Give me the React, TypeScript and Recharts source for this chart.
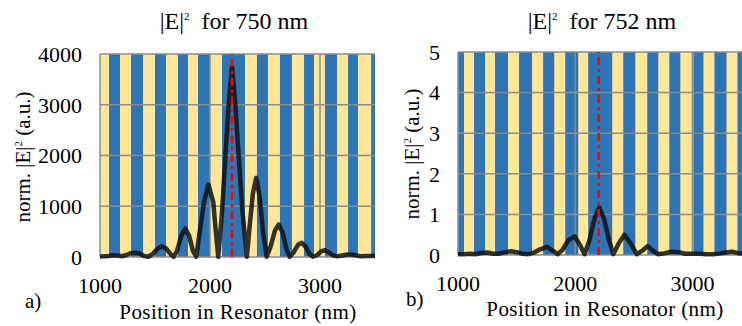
import React from "react";
import { LineChart, Line, XAxis, YAxis, CartesianGrid, ReferenceArea, ReferenceLine } from "recharts";

const SERIF = "Liberation Serif";
const YELLOW = "#FFE699";
const BLUE = "#2E75B6";
const GRID = "#8c8c8c";

const xTicks = [1000, 2000, 3000];
const cavityCenter = 2200;

// 750 nm
const yTicks750 = [0, 1000, 2000, 3000, 4000];
const positions750 = [
  1000, 1040, 1080, 1120, 1160, 1200, 1240, 1280, 1320, 1360, 1400, 1440, 1480, 1520, 1560, 1600,
  1640, 1670, 1700, 1740, 1775, 1810, 1845, 1875, 1910, 1945, 1985, 2030, 2050, 2075, 2110, 2140,
  2170, 2200, 2230, 2260, 2295, 2335, 2360, 2390, 2420, 2450, 2485, 2515, 2550, 2590, 2625, 2660,
  2695, 2725, 2760, 2800, 2835, 2870, 2905, 2935, 2975, 3010, 3045, 3080, 3120, 3155, 3200, 3250,
  3290, 3330, 3370, 3420, 3460, 3500,
];
const field750 = [
  10, 15, 20, 35, 30, 15, 40, 75, 85, 70, 20, 5, 60, 160, 210, 170,
  60, 5, 120, 420, 560, 420, 120, 5, 550, 1080, 1430, 1080, 570, 5, 900, 2000,
  3000, 3750, 3000, 2000, 900, 5, 600, 1250, 1560, 1200, 450, 5, 200, 520, 640, 480,
  150, 5, 90, 240, 280, 200, 60, 5, 40, 110, 135, 90, 30, 15, 30, 50,
  50, 30, 15, 20, 20, 20,
];
// blue layers [start, end] in nm
const stripes750 = [
  [1082, 1182], [1282, 1391], [1500, 1600], [1709, 1800], [1891, 2000], [2109, 2318],
  [2427, 2527], [2636, 2745], [2855, 2945], [3045, 3155], [3255, 3345], [3465, 3500],
];

// 752 nm
const yTicks752 = [0, 1, 2, 3, 4, 5];
const positions752 = [
  1000, 1050, 1100, 1150, 1200, 1250, 1300, 1350, 1400, 1450, 1500, 1550, 1600, 1650, 1700, 1760,
  1810, 1850, 1890, 1940, 1995, 2040, 2080, 2120, 2165, 2205, 2245, 2290, 2325, 2370, 2420, 2470,
  2525, 2570, 2620, 2665, 2705, 2760, 2820, 2880, 2940, 3000, 3060, 3120, 3180, 3240, 3300, 3340,
  3400, 3450, 3500,
];
const field752 = [
  0.02, 0.02, 0.03, 0.02, 0.05, 0.06, 0.03, 0.03, 0.07, 0.09, 0.07, 0.03, 0.02, 0.06, 0.14, 0.2,
  0.1, 0.02, 0.12, 0.36, 0.46, 0.25, 0.02, 0.35, 0.9, 1.17, 0.9, 0.35, 0.02, 0.28, 0.5, 0.3,
  0.02, 0.1, 0.22, 0.1, 0.02, 0.04, 0.08, 0.07, 0.03, 0.03, 0.03, 0.02, 0.02, 0.04, 0.07, 0.08,
  0.04, 0.03, 0.03,
];
const stripes752 = [
  [1000, 1051], [1137, 1231], [1316, 1427], [1521, 1632], [1726, 1821], [1915, 2026], [2111, 2316],
  [2410, 2513], [2615, 2709], [2803, 2897], [3009, 3094], [3188, 3291], [3385, 3480],
];

type PanelProps = {
  positions: number[];
  field: number[];
  stripes: number[][];
  yTicks: number[];
  left: number;
  width: number;
  axisWidth: number;
  top: number;
  bottom: number;
  right: number;
};

function Panel({ positions, field, stripes, yTicks, left, width, axisWidth, top, bottom, right }: PanelProps) {
  const data = positions.map((x, i) => ({ x, y: field[i] }));
  const yMax = yTicks[yTicks.length - 1];
  return (
    <div style={{ position: "absolute", left, top: 0 }}>
      <LineChart width={width} height={326} data={data} margin={{ top, right, bottom: 0, left: 0 }}>
        <CartesianGrid horizontal={false} vertical={false} fill={YELLOW} fillOpacity={1} />
        {stripes.map(([a, b], i) => (
          <ReferenceArea key={i} x1={a} x2={b} y1={0} y2={yMax} fill={BLUE} fillOpacity={1} stroke="none" ifOverflow="hidden" />
        ))}
        {yTicks.map((t) => (
          <ReferenceLine key={"h" + t} y={t} stroke={GRID} strokeWidth={1.5} />
        ))}
        {xTicks.map((t) => (
          <ReferenceLine key={"v" + t} x={t} stroke={GRID} strokeWidth={1.5} />
        ))}
        <XAxis
          dataKey="x"
          type="number"
          domain={[1000, 3500]}
          ticks={xTicks}
          allowDataOverflow
          axisLine={false}
          tickLine={false}
          tickMargin={14}
          height={bottom}
          tick={{ fontSize: 22, fill: "#000", fontFamily: SERIF }}
        />
        <YAxis
          type="number"
          domain={[0, yMax]}
          ticks={yTicks}
          axisLine={false}
          tickLine={false}
          tickMargin={12}
          width={axisWidth}
          tick={{ fontSize: 22, fill: "#000", fontFamily: SERIF }}
        />
        <Line
          type="linear"
          dataKey="y"
          stroke="#111"
          strokeOpacity={0.85}
          strokeWidth={4.5}
          strokeLinejoin="round"
          dot={false}
          isAnimationActive={false}
        />
        <ReferenceLine x={cavityCenter} stroke="#FF0000" strokeWidth={2.5} strokeDasharray="8 4 3 4" />
      </LineChart>
    </div>
  );
}

const txt: React.CSSProperties = { position: "absolute", fontFamily: SERIF, color: "#000", whiteSpace: "nowrap", lineHeight: 1 };

function Title({ x, y, nm }: { x: number; y: number; nm: string }) {
  return (
    <div style={{ ...txt, left: x, top: y, fontSize: 24, transform: "translateX(-50%)" }}>
      |E|<sup style={{ fontSize: 11 }}>2</sup>&nbsp; for {nm} nm
    </div>
  );
}

function YTitle({ x, y }: { x: number; y: number }) {
  return (
    <div style={{ ...txt, left: x, top: y, fontSize: 21, transform: "translate(-50%, -50%) rotate(-90deg)" }}>
      norm. |E|<sup style={{ fontSize: 11 }}>2</sup> (a.u.)
    </div>
  );
}

function XTitle({ x, y }: { x: number; y: number }) {
  return (
    <div style={{ ...txt, left: x, top: y, fontSize: 21, letterSpacing: 0.4, transform: "translateX(-50%)" }}>
      Position in Resonator (nm)
    </div>
  );
}

export default function App() {
  return (
    <div style={{ position: "fixed", left: 0, top: 0, width: 742, height: 326, overflow: "hidden", background: "#fff" }}>
      <Panel
        positions={positions750}
        field={field750}
        stripes={stripes750}
        yTicks={yTicks750}
        left={0}
        width={376}
        axisWidth={100}
        top={54}
        bottom={69}
        right={1}
      />
      <Panel
        positions={positions752}
        field={field752}
        stripes={stripes752}
        yTicks={yTicks752}
        left={371}
        width={380}
        axisWidth={87}
        top={52}
        bottom={71}
        right={0}
      />
      <Title x={234} y={9} nm="750" />
      <Title x={602} y={9} nm="752" />
      <YTitle x={23} y={157} />
      <YTitle x={412} y={154} />
      <XTitle x={238} y={302} />
      <XTitle x={605} y={299} />
      <div style={{ ...txt, left: 25, top: 291, fontSize: 21 }}>a)</div>
      <div style={{ ...txt, left: 406, top: 289, fontSize: 21 }}>b)</div>
    </div>
  );
}
